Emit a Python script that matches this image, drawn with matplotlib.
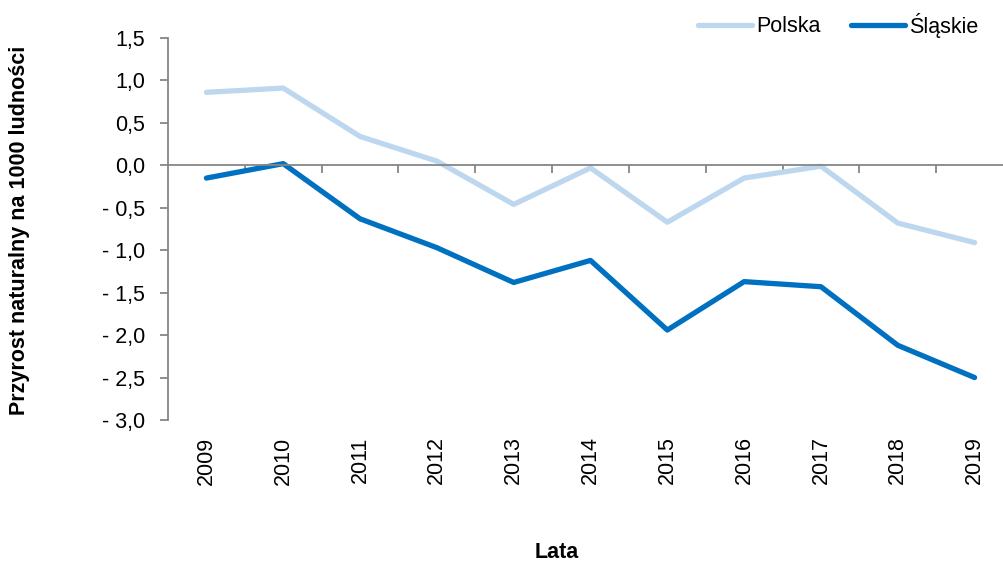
import matplotlib.pyplot as plt
import matplotlib.transforms as mtransforms
from matplotlib.ticker import FixedLocator

plt.rcParams["font.family"] = ["Liberation Sans", "DejaVu Sans"]

years = ["2009", "2010", "2011", "2012", "2013", "2014",
         "2015", "2016", "2017", "2018", "2019"]
polska = [0.86, 0.91, 0.34, 0.05, -0.46, -0.03, -0.67, -0.15, -0.01, -0.68, -0.91]
slaskie = [-0.15, 0.02, -0.63, -0.97, -1.38, -1.12, -1.94, -1.37, -1.43, -2.12, -2.50]

y_ticks = [1.5, 1.0, 0.5, 0.0, -0.5, -1.0, -1.5, -2.0, -2.5, -3.0]
y_labels = ["1,5", "1,0", "0,5", "0,0", "- 0,5", "- 1,0", "- 1,5",
            "- 2,0", "- 2,5", "- 3,0"]

AXIS_GREY = "#868686"
LIGHT_BLUE = "#BDD7EE"
DARK_BLUE = "#0070C0"
FS = 15.5


def main():
    fig = plt.figure(figsize=(10.04, 5.67), dpi=100)
    ax = fig.add_axes([168 / 1004, 1 - 420 / 567, 845 / 1004, 382 / 567])

    x = list(range(len(years)))
    ax.plot(x, polska, color=LIGHT_BLUE, linewidth=3.8, label="Polska",
            solid_capstyle="round", solid_joinstyle="round")
    ax.plot(x, slaskie, color=DARK_BLUE, linewidth=3.8, label="Śląskie",
            solid_capstyle="round", solid_joinstyle="round")

    ax.set_xlim(-0.5, len(years) - 0.5)
    ax.set_ylim(-3.0, 1.5)

    for side in ("top", "right"):
        ax.spines[side].set_visible(False)
    ax.spines["bottom"].set_position(("data", 0))
    for side in ("left", "bottom"):
        ax.spines[side].set_color(AXIS_GREY)
        ax.spines[side].set_linewidth(1.3)

    ax.set_yticks(y_ticks)
    ax.set_yticklabels(y_labels, fontsize=FS)
    ax.tick_params(axis="y", direction="out", length=5.5, width=1.3,
                   color=AXIS_GREY, pad=11)

    # ticks on the zero line sit between categories, labels go at the bottom
    ax.xaxis.set_major_locator(FixedLocator([i + 0.5 for i in x]))
    ax.tick_params(axis="x", direction="out", length=5.5, width=1.3,
                   color=AXIS_GREY, labelbottom=False)
    trans = mtransforms.blended_transform_factory(ax.transData, ax.transAxes)
    for i, yr in zip(x, years):
        ax.text(i, -0.043, yr, transform=trans, rotation=90, ha="center",
                va="top", fontsize=FS)

    fig.text(20 / 1004, 1 - 230 / 567, "Przyrost naturalny na 1000 ludności",
             rotation=90, ha="center", va="center", fontsize=FS,
             fontweight="bold")
    fig.text(557 / 1004, 1 - 552 / 567, "Lata", ha="center", va="center",
             fontsize=FS, fontweight="bold")

    fig.legend(loc="center right", bbox_to_anchor=(987 / 1004, 1 - 25 / 567),
               ncol=2, frameon=False, fontsize=FS, handlelength=2.5,
               handletextpad=0.2, columnspacing=1.4, borderaxespad=0)

    fig.savefig("out.png", dpi=100)
    plt.close(fig)


if __name__ == "__main__":
    main()
